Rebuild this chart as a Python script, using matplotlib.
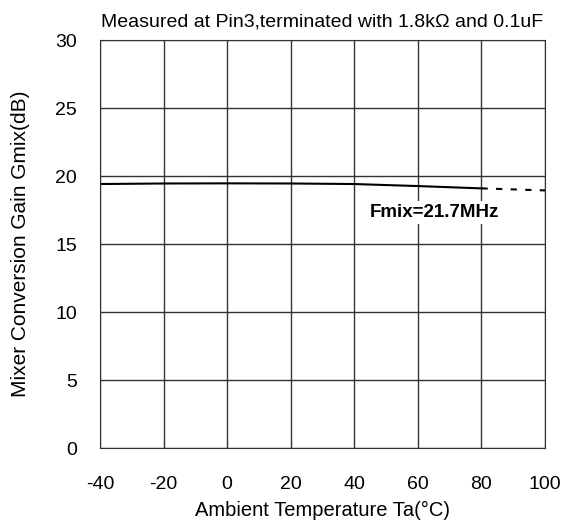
import numpy as np
import matplotlib.pyplot as plt

plt.rcParams['font.family'] = 'Liberation Sans'
plt.rcParams['axes.unicode_minus'] = False

# data
temp = [-40, -20, 0, 20, 40, 60, 80]
gain = [19.41, 19.45, 19.46, 19.45, 19.41, 19.26, 19.09]
temp_ext = [80, 100]
gain_ext = [19.09, 18.94]

xticks = [-40, -20, 0, 20, 40, 60, 80, 100]
yticks = [0, 5, 10, 15, 20, 25, 30]

fig = plt.figure(figsize=(5.66, 5.23), dpi=100)
ax = fig.add_axes([0.1767, 0.1434, 0.963 - 0.1767, 0.9235 - 0.1434])

ax.plot(temp, gain, color='black', lw=1.5)
ax.plot(temp_ext, gain_ext, color='black', lw=1.5, linestyle=(0, (3, 4)))

ax.set_xlim(-40, 100)
ax.set_ylim(0, 30)
ax.set_xticks(xticks)
ax.set_yticks(yticks)
ax.tick_params(length=0, labelsize=14)
ax.tick_params(axis='x', pad=20)
ax.tick_params(axis='y', pad=16.5)
ax.grid(True, color='#333333', lw=1)
for s in ax.spines.values():
    s.set_color('#333333')

ax.text(45, 17.3, 'Fmix=21.7MHz', fontsize=13.5, fontweight='bold', va='center', ha='left',
        bbox=dict(facecolor='white', edgecolor='none', pad=2))

ax.set_title('Measured at Pin3,terminated with 1.8k\u03a9 and 0.1uF', fontsize=14, pad=9.4)
ax.set_xlabel('Ambient Temperature Ta(\u00b0C)', fontsize=14.5, labelpad=6)
ax.set_ylabel('Mixer Conversion Gain Gmix(dB)', fontsize=15, labelpad=18)

fig.savefig('out.png', dpi=100)
